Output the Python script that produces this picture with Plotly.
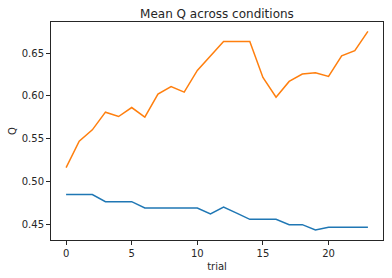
import plotly.graph_objects as go

trials = list(range(24))
cond_a = [0.485, 0.485, 0.485, 0.4768, 0.4768, 0.4768, 0.4694, 0.4694, 0.4694, 0.4694,
          0.4694, 0.4624, 0.4705, 0.4634, 0.4562, 0.4562, 0.4562, 0.450, 0.450, 0.4437,
          0.4469, 0.4469, 0.4469, 0.4469]
cond_b = [0.5165, 0.5473, 0.5605, 0.5811, 0.576, 0.5865, 0.5753, 0.6021, 0.611, 0.6045,
          0.6297, 0.6465, 0.6636, 0.6636, 0.6636, 0.6216, 0.5986, 0.6169, 0.6255, 0.627,
          0.6227, 0.6468, 0.6527, 0.6752]
y_ticks = [0.45, 0.50, 0.55, 0.60, 0.65]
x_ticks = [0, 5, 10, 15, 20]

fig = go.Figure()
fig.add_trace(go.Scatter(x=trials, y=cond_a, mode="lines",
                         line=dict(color="#1f77b4", width=1.5), showlegend=False))
fig.add_trace(go.Scatter(x=trials, y=cond_b, mode="lines",
                         line=dict(color="#ff7f0e", width=1.5), showlegend=False))

font = "DejaVu Sans"
axis_common = dict(showline=True, mirror=True, linecolor="#262626", linewidth=1,
                   ticks="outside", ticklen=4, tickwidth=1, tickcolor="#262626",
                   showgrid=False, zeroline=False,
                   tickfont=dict(family=font, size=10, color="#262626"))

fig.update_layout(
    width=392, height=278,
    margin=dict(l=51, r=9, t=22, b=38),
    paper_bgcolor="white", plot_bgcolor="white",
    title=dict(text="Mean Q across conditions", x=0.5535, xanchor="center",
               y=1 - 14 / 278, yanchor="middle",
               font=dict(family=font, size=12, color="#262626")),
    xaxis=dict(range=[-1.15, 24.15], tickvals=x_ticks,
               title=dict(text="trial", font=dict(family=font, size=10, color="#262626"), standoff=4),
               **axis_common),
    yaxis=dict(range=[0.4321, 0.6862], tickvals=y_ticks, tickformat=".2f",
               title=dict(text="Q", font=dict(family=font, size=10, color="#262626"), standoff=3),
               **axis_common),
)

fig.write_html("out.html")
